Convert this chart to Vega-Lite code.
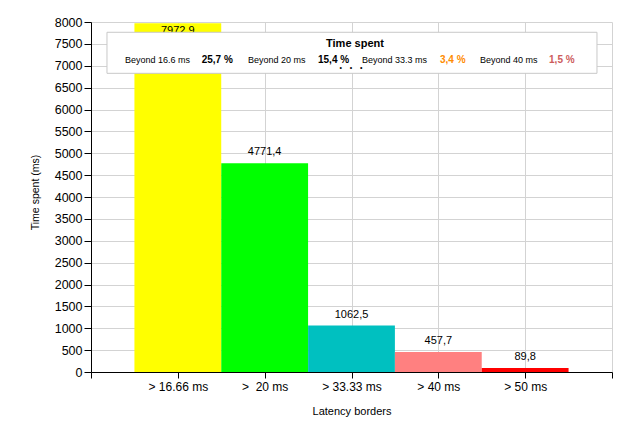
{
  "$schema": "https://vega.github.io/schema/vega-lite/v6.json",
  "width": 521,
  "height": 350,
  "autosize": {"type": "none"},
  "padding": {"left": 91, "top": 22, "right": 23, "bottom": 60},
  "background": "white",
  "config": {
    "view": {"stroke": null},
    "font": "Liberation Sans",
    "axis": {
      "domainColor": "#000000",
      "tickColor": "#000000",
      "gridColor": "#d3d3d3",
      "gridOpacity": 1,
      "labelColor": "#000000",
      "titleColor": "#000000",
      "labelFont": "Liberation Sans",
      "titleFont": "Liberation Sans",
      "titleFontWeight": "normal"
    }
  },
  "resolve": {"axis": {"x": "independent", "y": "independent"}},
  "datasets": {
    "bars": [
      {"border": "> 16.66 ms", "pos": 1, "time": 7972.9, "label": "7972,9"},
      {"border": ">  20 ms", "pos": 2, "time": 4771.4, "label": "4771,4"},
      {"border": "> 33.33 ms", "pos": 3, "time": 1062.5, "label": "1062,5"},
      {"border": "> 40 ms", "pos": 4, "time": 457.7, "label": "457,7"},
      {"border": "> 50 ms", "pos": 5, "time": 89.8, "label": "89,8"}
    ],
    "legend": [
      {"item": "Beyond 16.6 ms", "share": "25,7 %"},
      {"item": "Beyond 20 ms", "share": "15,4 %"},
      {"item": "Beyond 33.3 ms", "share": "3,4 %"},
      {"item": "Beyond 40 ms", "share": "1,5 %"}
    ],
    "title": [{"t": "Time spent"}]
  },
  "layer": [
    {
      "data": {"name": "bars"},
      "mark": {"type": "bar", "size": 86.8},
      "encoding": {
        "x": {
          "field": "pos", "type": "quantitative",
          "scale": {"domain": [0, 6], "nice": false, "zero": false, "padding": 0},
          "axis": {
            "values": [0, 1, 2, 3, 4, 5, 6],
            "labelExpr": "datum.value == 1 ? '> 16.66 ms' : datum.value == 2 ? '>\u00a0\u00a020 ms' : datum.value == 3 ? '> 33.33 ms' : datum.value == 4 ? '> 40 ms' : datum.value == 5 ? '> 50 ms' : ''",
            "title": "Latency borders",
            "grid": true,
            "tickSize": 6,
            "labelPadding": 3,
            "labelFontSize": 12,
            "labelFlush": false,
            "labelOverlap": false,
            "titleFontSize": 11,
            "titleY": 42,
            "titleBaseline": "alphabetic"
          }
        },
        "y": {
          "field": "time", "type": "quantitative",
          "scale": {"domain": [0, 8000], "nice": false, "padding": 0},
          "axis": {
            "values": [0, 500, 1000, 1500, 2000, 2500, 3000, 3500, 4000, 4500, 5000, 5500, 6000, 6500, 7000, 7500, 8000],
            "format": "d",
            "title": "Time spent (ms)",
            "grid": true,
            "tickSize": 7,
            "labelPadding": 2,
            "labelFontSize": 12.5,
            "labelFlush": false,
            "labelOverlap": false,
            "titleFontSize": 10.5,
            "titleX": -56,
            "titleY": 170,
            "titleBaseline": "middle"
          }
        },
        "color": {
          "field": "border", "type": "nominal",
          "scale": {
            "domain": ["> 16.66 ms", ">  20 ms", "> 33.33 ms", "> 40 ms", "> 50 ms"],
            "range": ["#ffff00", "#00ff00", "#00c0c0", "#ff8080", "#ff0000"]
          },
          "legend": null
        }
      }
    },
    {
      "data": {"name": "bars"},
      "transform": [{"filter": "datum.time < 7500"}],
      "mark": {"type": "text", "dy": -8, "baseline": "alphabetic", "fontSize": 11, "color": "#000000"},
      "encoding": {
        "x": {"field": "pos", "type": "quantitative", "axis": null},
        "y": {"field": "time", "type": "quantitative", "axis": null},
        "text": {"field": "label"}
      }
    },
    {
      "data": {"name": "bars"},
      "transform": [{"filter": "datum.time >= 7500"}],
      "mark": {"type": "text", "dy": 11, "baseline": "alphabetic", "fontSize": 11, "color": "#000000"},
      "encoding": {
        "x": {"field": "pos", "type": "quantitative", "axis": null},
        "y": {"field": "time", "type": "quantitative", "axis": null},
        "text": {"field": "label"}
      }
    },
    {
      "data": {"name": "title"},
      "mark": {"type": "rect", "fill": "#ffffff", "stroke": "#c8c8c8", "strokeWidth": 1},
      "encoding": {
        "x": {"datum": 0.184, "type": "quantitative", "axis": null},
        "x2": {"datum": 5.827},
        "y": {"datum": 7765, "type": "quantitative", "axis": null},
        "y2": {"datum": 6827}
      }
    },
    {
      "data": {"name": "title"},
      "mark": {"type": "text", "align": "center", "baseline": "alphabetic", "fontSize": 11, "fontWeight": "bold", "color": "#000000"},
      "encoding": {
        "x": {"datum": 3.04, "type": "quantitative", "axis": null},
        "y": {"datum": 7435, "type": "quantitative", "axis": null},
        "text": {"field": "t"}
      }
    },
    {
      "data": {"name": "title"},
      "mark": {"type": "text", "align": "center", "baseline": "middle", "fontSize": 7, "color": "#000000", "text": "•\u00a0\u00a0\u00a0\u00a0•\u00a0\u00a0\u00a0\u00a0•"},
      "encoding": {
        "x": {"datum": 2.994, "type": "quantitative", "axis": null},
        "y": {"datum": 6942, "type": "quantitative", "axis": null}
      }
    },
    {
      "data": {"name": "legend"},
      "transform": [{"filter": "datum.item == 'Beyond 16.6 ms'"}],
      "layer": [
        {"mark": {"type": "text", "align": "left", "baseline": "alphabetic", "fontSize": 9, "color": "#000000"},
         "encoding": {"x": {"datum": 0.392, "type": "quantitative", "axis": null}, "y": {"datum": 7070, "type": "quantitative", "axis": null}, "text": {"field": "item"}}},
        {"mark": {"type": "text", "align": "left", "baseline": "alphabetic", "fontSize": 10, "fontWeight": "bold", "color": "#000000"},
         "encoding": {"x": {"datum": 1.275, "type": "quantitative", "axis": null}, "y": {"datum": 7070, "type": "quantitative", "axis": null}, "text": {"field": "share"}}}
      ]
    },
    {
      "data": {"name": "legend"},
      "transform": [{"filter": "datum.item == 'Beyond 20 ms'"}],
      "layer": [
        {"mark": {"type": "text", "align": "left", "baseline": "alphabetic", "fontSize": 9, "color": "#000000"},
         "encoding": {"x": {"datum": 1.808, "type": "quantitative", "axis": null}, "y": {"datum": 7070, "type": "quantitative", "axis": null}, "text": {"field": "item"}}},
        {"mark": {"type": "text", "align": "left", "baseline": "alphabetic", "fontSize": 10, "fontWeight": "bold", "color": "#000000"},
         "encoding": {"x": {"datum": 2.614, "type": "quantitative", "axis": null}, "y": {"datum": 7070, "type": "quantitative", "axis": null}, "text": {"field": "share"}}}
      ]
    },
    {
      "data": {"name": "legend"},
      "transform": [{"filter": "datum.item == 'Beyond 33.3 ms'"}],
      "layer": [
        {"mark": {"type": "text", "align": "left", "baseline": "alphabetic", "fontSize": 9, "color": "#000000"},
         "encoding": {"x": {"datum": 3.121, "type": "quantitative", "axis": null}, "y": {"datum": 7070, "type": "quantitative", "axis": null}, "text": {"field": "item"}}},
        {"mark": {"type": "text", "align": "left", "baseline": "alphabetic", "fontSize": 10, "fontWeight": "bold", "color": "#ff8c00"},
         "encoding": {"x": {"datum": 4.019, "type": "quantitative", "axis": null}, "y": {"datum": 7070, "type": "quantitative", "axis": null}, "text": {"field": "share"}}}
      ]
    },
    {
      "data": {"name": "legend"},
      "transform": [{"filter": "datum.item == 'Beyond 40 ms'"}],
      "layer": [
        {"mark": {"type": "text", "align": "left", "baseline": "alphabetic", "fontSize": 9, "color": "#000000"},
         "encoding": {"x": {"datum": 4.48, "type": "quantitative", "axis": null}, "y": {"datum": 7070, "type": "quantitative", "axis": null}, "text": {"field": "item"}}},
        {"mark": {"type": "text", "align": "left", "baseline": "alphabetic", "fontSize": 10, "fontWeight": "bold", "color": "#cd5c5c"},
         "encoding": {"x": {"datum": 5.275, "type": "quantitative", "axis": null}, "y": {"datum": 7070, "type": "quantitative", "axis": null}, "text": {"field": "share"}}}
      ]
    }
  ]
}
